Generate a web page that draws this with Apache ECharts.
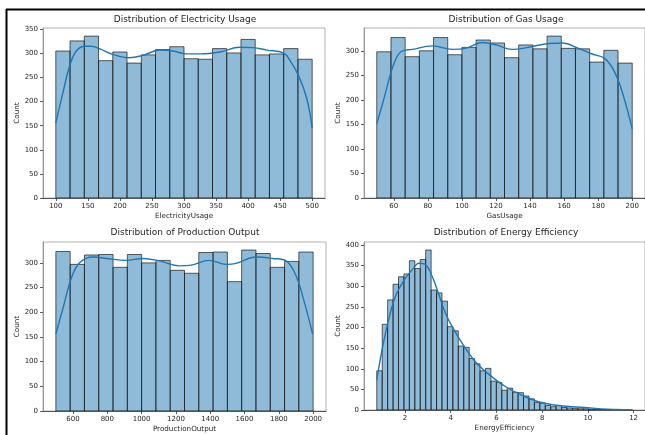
<!DOCTYPE html>
<html><head><meta charset="utf-8">
<script src="https://cdn.jsdelivr.net/npm/echarts@6/dist/echarts.min.js"></script>
<style>html,body{margin:0;padding:0;background:#fff}#c{width:645px;height:435px}</style>
</head><body><div id="c"></div>
<script>
// ---- Electricity Usage ----
const elecTitle = 'Distribution of Electricity Usage';
const elecXName = 'ElectricityUsage';
const elecRange = [100, 500];
const elecCounts = [305,326,336,285,303,280,297,308,314,289,288,310,301,329,297,299,310,288];
const elecKdeX = [100,111,121.5,132,145,155,168,189,215,236,262,283,304,325,356,387,408,429,455,466,479,492,500];
const elecKdeY = [156,218,274,305,315,315,310,298,291,296,307,305,299,299,303,313,312,307,301,284,253,204,145];
const elecXTicks = [100,150,200,250,300,350,400,450,500];
const elecYTicks = [0,50,100,150,200,250,300,350];

// ---- Gas Usage ----
const gasTitle = 'Distribution of Gas Usage';
const gasXName = 'GasUsage';
const gasRange = [50, 200];
const gasCounts = [298,327,288,300,327,292,307,322,316,286,312,304,330,305,304,277,301,275];
const gasKdeX = [50,54.5,59.4,64.2,71,82.7,94.4,102,112,120,129.5,139,151,159,168.5,176,184,190,195,200];
const gasKdeY = [151,206,267,298,303,310,303,305,317,312,303,307,315,316,305,294,284,254,206,141];
const gasXTicks = [60,80,100,120,140,160,180,200];
const gasYTicks = [0,50,100,150,200,250,300];

// ---- Production Output ----
const prodTitle = 'Distribution of Production Output';
const prodXName = 'ProductionOutput';
const prodRange = [500, 2000];
const prodCounts = [323,297,316,317,291,317,300,305,285,279,321,322,262,326,319,291,303,322];
const prodKdeX = [500,543,591,640,717,795,911,1008,1105,1222,1280,1396,1493,1551,1668,1765,1842,1900,1949,1997];
const prodKdeY = [156,210,270,301,312,309,305,309,304,294,295,305,297,299,312,309,304,274,220,156];
const prodXTicks = [600,800,1000,1200,1400,1600,1800,2000];
const prodYTicks = [0,50,100,150,200,250,300];

// ---- Energy Efficiency ----
const effTitle = 'Distribution of Energy Efficiency';
const effXName = 'EnergyEfficiency';
const effRange = [0.77, 11.94];
const effCounts = [95,208,267,305,323,330,362,343,365,388,291,284,264,202,192,155,152,125,112,95,101,70,67,48,53,43,42,34,27,18,17,11,8,11,6,5,4,3,3,2,2,1,1,1,1,0,1];
const effKdeX = [0.77,1.03,1.32,1.61,1.97,2.33,2.62,2.91,3.2,3.49,3.78,4.07,4.5,5.08,5.66,6.39,7.11,7.84,8.71,9.87,10.88,11.94];
const effKdeY = [73,154,226,279,315,341,356,352,323,279,234,202,162,117,87,57,36,20,11,6,2,1];
const effXTicks = [2,4,6,8,10,12];
const effYTicks = [0,50,100,150,200,250,300,350,400];

const panels = [
  {title: elecTitle, xName: elecXName, range: elecRange, counts: elecCounts, kx: elecKdeX, ky: elecKdeY, xt: elecXTicks, yt: elecYTicks},
  {title: gasTitle, xName: gasXName, range: gasRange, counts: gasCounts, kx: gasKdeX, ky: gasKdeY, xt: gasXTicks, yt: gasYTicks},
  {title: prodTitle, xName: prodXName, range: prodRange, counts: prodCounts, kx: prodKdeX, ky: prodKdeY, xt: prodXTicks, yt: prodYTicks},
  {title: effTitle, xName: effXName, range: effRange, counts: effCounts, kx: effKdeX, ky: effKdeY, xt: effXTicks, yt: effYTicks}
];

const grids = [
  {left: 43, top: 28, width: 282, height: 170},
  {left: 364, top: 28, width: 282, height: 170},
  {left: 43, top: 242, width: 283, height: 169},
  {left: 364, top: 242, width: 282, height: 168}
];
const titleCenters = [[185, 15], [506, 15], [185, 228], [506, 228]];

const FONT = 'DejaVu Sans';
const TXT = '#262626';

const option = {
  animation: false,
  backgroundColor: '#fff',
  textStyle: {fontFamily: FONT},
  title: panels.map((p, i) => ({
    text: p.title, left: titleCenters[i][0], top: titleCenters[i][1], textAlign: 'center', padding: 0,
    textStyle: {fontSize: 9, fontWeight: 'normal', color: TXT, fontFamily: FONT}
  })),
  grid: grids.map(g => Object.assign({show: true, borderColor: '#a0a0a0', borderWidth: 0.8, backgroundColor: 'transparent'}, g)),
  xAxis: panels.map((p, i) => {
    const span = p.range[1] - p.range[0];
    return {
      gridIndex: i, type: 'value',
      min: p.range[0] - 0.05 * span, max: p.range[1] + 0.05 * span,
      name: p.xName, nameLocation: 'middle', nameGap: 15,
      nameTextStyle: {fontSize: 7.2, color: TXT, fontFamily: FONT},
      axisLine: {show: true, onZero: false, lineStyle: {color: '#333', width: 0.8}},
      axisTick: {show: true, length: 3, customValues: p.xt, lineStyle: {color: '#333', width: 0.8}},
      axisLabel: {customValues: p.xt, fontSize: 7, color: TXT, margin: 5, fontFamily: FONT, formatter: v => String(v)},
      splitLine: {show: false}
    };
  }),
  yAxis: panels.map((p, i) => {
    const ymax = Math.max(...p.counts, ...p.ky) * 1.05;
    return {
      gridIndex: i, type: 'value', min: 0, max: ymax,
      name: 'Count', nameLocation: 'middle', nameGap: 22, nameRotate: 90,
      nameTextStyle: {fontSize: 7.2, color: TXT, fontFamily: FONT},
      axisLine: {show: true, lineStyle: {color: '#888', width: 0.8}},
      axisTick: {show: true, length: 3, customValues: p.yt, lineStyle: {color: '#333', width: 0.8}},
      axisLabel: {customValues: p.yt, fontSize: 7, color: TXT, margin: 5, fontFamily: FONT, formatter: v => String(v)},
      splitLine: {show: false}
    };
  }),
  series: []
};

panels.forEach((p, i) => {
  const n = p.counts.length;
  const w = (p.range[1] - p.range[0]) / n;
  option.series.push({
    type: 'custom', xAxisIndex: i, yAxisIndex: i, clip: true,
    data: p.counts.map((c, k) => [p.range[0] + k * w, p.range[0] + (k + 1) * w, c]),
    encode: {x: [0, 1], y: 2},
    renderItem: function (params, api) {
      const a = api.coord([api.value(0), api.value(2)]);
      const b = api.coord([api.value(1), 0]);
      return {
        type: 'rect',
        shape: {x: a[0], y: a[1], width: b[0] - a[0], height: b[1] - a[1]},
        style: {fill: 'rgba(31,119,180,0.5)', stroke: 'rgba(20,20,20,0.75)', lineWidth: 0.9}
      };
    },
    z: 2
  });
  option.series.push({
    type: 'line', xAxisIndex: i, yAxisIndex: i, smooth: 0.4, showSymbol: false, symbol: 'none',
    data: p.kx.map((x, k) => [x, p.ky[k]]),
    lineStyle: {color: '#1f77b4', width: 1.4},
    z: 3
  });
});

option.graphic = [
  {type: 'line', shape: {x1: 6, y1: 9.5, x2: 645, y2: 9.5}, style: {stroke: '#000', lineWidth: 2}, z: 100},
  {type: 'line', shape: {x1: 6.5, y1: 9, x2: 6.5, y2: 435}, style: {stroke: '#000', lineWidth: 2}, z: 100}
];

const chart = echarts.init(document.getElementById('c'), null, {renderer: 'canvas'});
chart.setOption(option);
</script>
</body></html>
